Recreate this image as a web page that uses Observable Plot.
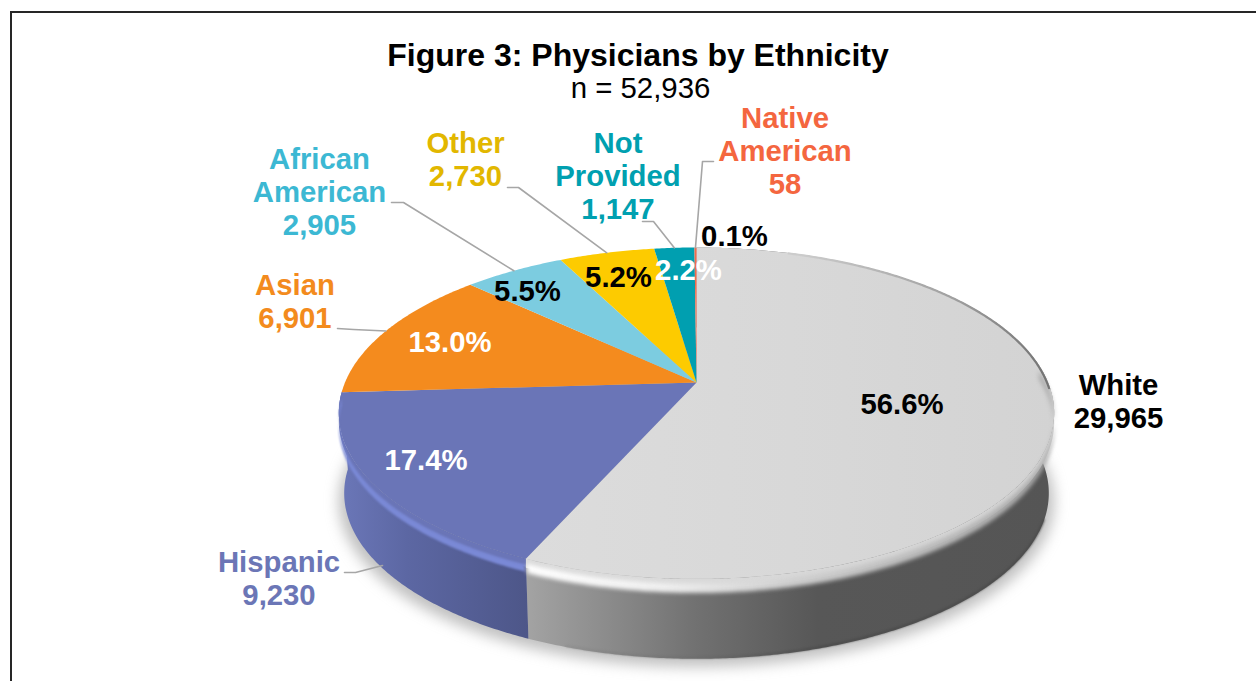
<!DOCTYPE html>
<html>
<head>
<meta charset="utf-8">
<script src="https://cdn.jsdelivr.net/npm/d3@7"></script>
<script src="https://cdn.jsdelivr.net/npm/@observablehq/plot@0.6"></script>
<style>
  html, body { margin: 0; padding: 0; background: #fff; overflow: hidden; width: 1256px; height: 681px; }
  #frame { position: absolute; left: 10px; top: 11px; width: 1300px; height: 720px; border-left: 2px solid #262626; border-top: 2px solid #262626; }
  #head { position: relative; height: 103px; font-family: "Liberation Sans", Arial, sans-serif; color: #000; }
  #head h1 { position: absolute; left: 0; width: 1276px; top: 37px; margin: 0; text-align: center; font-size: 32px; line-height: 36px; font-weight: bold; }
  #head p { position: absolute; left: 0; width: 1281px; top: 72px; margin: 0; text-align: center; font-size: 29.4px; line-height: 32px; }
  #chart { display: block; position: relative; }
</style>
</head>
<body>
<div id="frame"></div>
<div id="head">
  <h1>Figure 3: Physicians by Ethnicity</h1>
  <p>n = 52,936</p>
</div>
<div id="chart"></div>
<script>
// Physician counts by ethnicity, clockwise from twelve o'clock
const ethnicities = ["White", "Hispanic", "Asian", "African American", "Other", "Not Provided", "Native American"];
const counts = [29965, 9230, 6901, 2905, 2730, 1147, 58];
const sliceColors = ["url(#topWhite)", "#6a75b7", "#f48b1e", "#7ccce0", "#fdcb00", "#009fb0", "#f26a4b"];
const labelColors = ["#000000", "#6b76b6", "#f38b1d", "#3cb8d3", "#e2b700", "#00a0b0", "#f4663f"];
const categoryLines = ["White", "Hispanic", "Asian", "African\nAmerican", "Other", "Not\nProvided", "Native\nAmerican"];
const percentColors = ["#000", "#fff", "#fff", "#000", "#000", "#fff", "#000"];

// Page positions (px) of the text blocks
const categoryAnchors = [[1118, 400.5], [278.5, 577.5], [294.5, 300.5], [319, 191], [465, 158.5], [617.5, 175], [784.5, 150]];
const percentAnchors = [[901.5, 403], [425.5, 459], [449.5, 341], [527, 290], [618, 276], [688, 269], [734, 235]];
// Page positions (px) of each leader's first two vertices; the third sits on the rim
const leaderStarts = [null, [[344, 572], [355, 572]], [[337, 328], [353, 329]], [[391, 202], [403, 202]], [[507, 187], [518, 187]], [[642, 221], [653, 221]], [[713, 161], [702, 161]]];

// Perspective disc: a unit circle tilted away from the viewer
const headHeight = 103;
const centerX = 696, centerY = 382, halfW = 351.5, halfH = 160, tilt = 0.185;
const sideDepth = 80 / halfH, sideShrink = 0.985;
const pxDown = px => px / halfH;
const project = (deg, r = 1) => {
  const a = deg * Math.PI / 180, u = r * Math.sin(a), v = r * Math.cos(a), d = 1 + tilt * v;
  return { x: u / d, y: v / d };
};
const fromPage = ([X, Y]) => ({ x: (X - centerX) / halfW, y: (centerY - Y) / halfH });
const sweep = (a, b, r = 1) => d3.range(a, b, 0.5).concat(b).map(t => project(t, r));
const drop = (p, depth = sideDepth, shrink = sideShrink) => ({ x: p.x * shrink, y: p.y - depth });

const total = d3.sum(counts);
let running = 0;
const slices = ethnicities.map((name, i) => {
  const start = running / total * 360;
  running += counts[i];
  const end = running / total * 360;
  return { name, i, start, end, mid: (start + end) / 2, share: counts[i] / total };
});
// Closed strip following an arc of the rim, between two depths below it
const strip = (a, b, near, far, shrink = 1) => {
  const rim = sweep(a, b);
  return rim.map(p => drop(p, near, 1)).concat(rim.map(p => drop(p, far, shrink)).reverse());
};

const fmtCount = d3.format(",");
const fmtShare = d3.format(".1%");
const categoryRows = slices.map(s => ({
  ...fromPage(categoryAnchors[s.i]),
  text: `${categoryLines[s.i]}\n${fmtCount(counts[s.i])}`,
  color: labelColors[s.i]
}));
const percentRows = slices.map(s => ({
  ...fromPage(percentAnchors[s.i]),
  text: fmtShare(s.share),
  color: percentColors[s.i]
}));

const textStyle = {
  x: "x", y: "y", text: "text", fill: "color",
  fontFamily: "'Liberation Sans', Arial, sans-serif", fontSize: 29.3, fontWeight: "bold",
  lineHeight: 1.125, lineAnchor: "middle", textAnchor: "middle"
};

// Horizontal shading for the top face, walls and bevelled rim
function gradients() {
  const defs = d3.create("svg:defs");
  const add = (id, x1, x2, stops) => {
    const g = defs.append("linearGradient").attr("id", id).attr("gradientUnits", "userSpaceOnUse")
      .attr("x1", x1).attr("x2", x2).attr("y1", 0).attr("y2", 0);
    stops.forEach(([o, c]) => g.append("stop").attr("offset", o).attr("stop-color", c));
  };
  add("topWhite", 527, 1054, [[0, "#dcdcdc"], [0.5, "#d8d8d8"], [1, "#d3d3d3"]]);
  add("wallWhite", 527, 1054, [[0, "#a3a3a3"], [0.32, "#717171"], [0.55, "#575757"], [1, "#555555"]]);
  add("wallHispanic", 340, 530, [[0, "#6b77b8"], [0.35, "#5c67a3"], [1, "#4d5688"]]);
  add("rimWhite", 527, 1054, [[0, "#ffffff"], [0.25, "#f0f0f0"], [0.5, "#cfcfcf"], [1, "#a8a8a8"]]);
  add("edgeWhite", 800, 1054, [[0, "#cccccc"], [0.6, "#a0a0a0"], [1, "#707070"]]);
  add("lipWhite", 560, 820, [[0, "#8f8f8f"], [1, "#484848"]]);
  return defs.node();
}

const whiteSlice = slices[0], hispanicSlice = slices[1], asianSlice = slices[2];

const chart = Plot.plot({
  width: 1256,
  height: 681 - headHeight,
  margin: 0,
  style: { background: "transparent", overflow: "visible" },
  x: { domain: [-1, 1], range: [centerX - halfW, centerX + halfW], axis: null },
  y: { domain: [-1, 1], range: [centerY + halfH - headHeight, centerY - halfH - headHeight], axis: null },
  color: { type: "identity" },
  marks: [
    gradients,
    // Soft ground shadow
    Plot.line(sweep(0, 360).map(p => ({ x: p.x, y: p.y - sideDepth - 0.05 })), {
      x: "x", y: "y", fill: "#8c8c8c", stroke: "none", fillOpacity: 0.55, imageFilter: "blur(7px)"
    }),
    // Outer walls
    Plot.line(strip(whiteSlice.start, whiteSlice.end, 0, sideDepth, sideShrink), { x: "x", y: "y", fill: "url(#wallWhite)", stroke: "none" }),
    Plot.line(strip(hispanicSlice.start, asianSlice.start + 1, 0, sideDepth, sideShrink), { x: "x", y: "y", fill: "url(#wallHispanic)", stroke: "none" }),
    // Darker lower lip of the wall
    Plot.line(sweep(110, 198).map(p => drop(p, sideDepth - 0.008)), {
      x: "x", y: "y", stroke: "url(#lipWhite)", strokeWidth: 1.6, imageFilter: "blur(0.8px)"
    }),
    // Top face, one wedge per ethnicity
    ...slices.map(s => Plot.line([{ x: 0, y: 0 }, ...sweep(s.start, s.end), { x: 0, y: 0 }], {
      x: "x", y: "y", fill: sliceColors[s.i], stroke: "none"
    })),
    // Rounded front edge: the face colour carries over the rim, then a highlight
    Plot.line(strip(hispanicSlice.start, hispanicSlice.end, 0, pxDown(8)), {
      x: "x", y: "y", fill: sliceColors[1], stroke: "none"
    }),
    Plot.line(strip(hispanicSlice.start + 0.2, hispanicSlice.end, pxDown(6), pxDown(13)), {
      x: "x", y: "y", fill: "#7a89d6", stroke: "none", imageFilter: "blur(1.2px)"
    }),
    Plot.line(strip(whiteSlice.end - 120, whiteSlice.end, 0, pxDown(9)), {
      x: "x", y: "y", fill: "url(#topWhite)", stroke: "none"
    }),
    Plot.line(strip(whiteSlice.end - 120, whiteSlice.end - 0.2, pxDown(5), pxDown(14)), {
      x: "x", y: "y", fill: "url(#rimWhite)", stroke: "none", imageFilter: "blur(2.2px)"
    }),
    // Thin shaded edge along the rear right of the rim
    Plot.line(sweep(18, 92, 0.997), {
      x: "x", y: "y", stroke: "url(#edgeWhite)", strokeWidth: 2.2, imageFilter: "blur(0.6px)"
    }),
    // Leaders from each outside label to the middle of its wedge's rim
    ...slices.filter(s => leaderStarts[s.i]).map(s => Plot.line(
      [...leaderStarts[s.i].map(fromPage), s.i === 1 ? fromPage([382, 565]) : project(s.mid)],
      { x: "x", y: "y", stroke: "#a6a6a6", strokeWidth: 1.6 }
    )),
    Plot.text(categoryRows, textStyle),
    Plot.text(percentRows, textStyle)
  ]
});
document.getElementById("chart").append(chart);
</script>
</body>
</html>
